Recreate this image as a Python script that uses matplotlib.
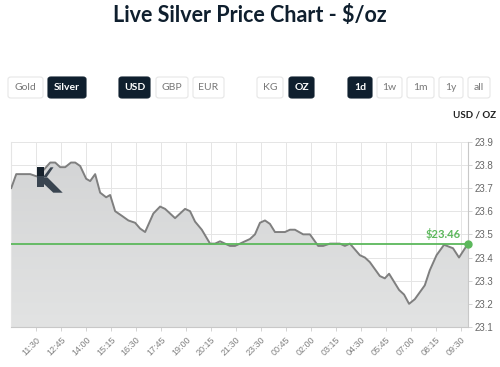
import matplotlib
matplotlib.use("Agg")
import matplotlib.pyplot as plt
import numpy as np
from matplotlib.patches import FancyBboxPatch, Polygon

# Price samples (x in tick-spacing units, 11:30 = 1)
pos = [0.01, 0.21, 0.77, 1.04, 1.24, 1.57, 1.77, 1.97, 2.17, 2.40, 2.57, 2.77,
       3.01, 3.17, 3.37, 3.57, 3.81, 3.97, 4.17, 4.44, 4.70, 4.97, 5.17, 5.37,
       5.70, 5.97, 6.17, 6.57, 6.97, 7.17, 7.37, 7.64, 7.97, 8.17, 8.37, 8.77,
       8.97, 9.57, 9.77, 9.97, 10.17, 10.37, 10.57, 10.97, 11.17, 11.37, 11.70,
       11.97, 12.30, 12.50, 12.77, 13.17, 13.37, 13.57, 13.97, 14.17, 14.37,
       14.77, 14.97, 15.14, 15.54, 15.74, 15.94, 16.17, 16.57, 16.77, 17.04,
       17.34, 17.70, 17.94, 18.30]
price = [23.70, 23.76, 23.76, 23.75, 23.77, 23.81, 23.81, 23.79, 23.79, 23.81,
         23.81, 23.795, 23.74, 23.73, 23.76, 23.68, 23.66, 23.67, 23.60, 23.58,
         23.56, 23.55, 23.525, 23.51, 23.59, 23.62, 23.61, 23.57, 23.61, 23.60,
         23.555, 23.52, 23.46, 23.46, 23.47, 23.45, 23.45, 23.48, 23.50, 23.55,
         23.56, 23.545, 23.51, 23.51, 23.52, 23.52, 23.50, 23.50, 23.45, 23.45,
         23.46, 23.46, 23.45, 23.46, 23.41, 23.40, 23.38, 23.32, 23.31, 23.33,
         23.26, 23.24, 23.20, 23.22, 23.28, 23.345, 23.41, 23.455, 23.44, 23.40,
         23.46]
current_price = 23.46

time_labels = ["11:30", "12:45", "14:00", "15:15", "16:30", "17:45", "19:00",
               "20:15", "21:30", "23:30", "00:45", "02:00", "03:15", "04:30",
               "05:45", "07:00", "08:15", "09:30"]
y_ticks = [23.1, 23.2, 23.3, 23.4, 23.5, 23.6, 23.7, 23.8, 23.9]

title = "Live Silver Price Chart - $/oz"
button_groups = [
    [("Gold", 8, 43, False), ("Silver", 48, 86, True)],
    [("USD", 119, 150, True), ("GBP", 156, 188, False), ("EUR", 193, 224, False)],
    [("KG", 257, 283, False), ("OZ", 289, 314, True)],
    [("1d", 348, 372, True), ("1w", 377, 402, False), ("1m", 407, 434, False),
     ("1y", 439, 463, False), ("all", 468, 490, False)],
]

W, H = 500, 367
DARK = "#0f1f2e"
GREEN = "#5cb85c"

fig = plt.figure(figsize=(W / 100, H / 100), dpi=100)
fig.patch.set_facecolor("white")


def fx(px):
    return px / W


def fy(py):
    return 1 - py / H


fig.text(0.5, fy(15), title, ha="center", va="center", fontsize=15.5,
         fontweight="bold", family="Lato", color=DARK)

for group in button_groups:
    for label, x0, x1, active in group:
        box = FancyBboxPatch((fx(x0), fy(98)), fx(x1 - x0), 21 / H,
                             boxstyle="round,pad=0,rounding_size=0.006",
                             transform=fig.transFigure,
                             facecolor=DARK if active else "white",
                             edgecolor=DARK if active else "#e6e6e6",
                             linewidth=0.8)
        fig.add_artist(box)
        fig.text(fx((x0 + x1) / 2), fy(87.5), label, ha="center", va="center",
                 fontsize=7.5, family="Lato",
                 fontweight="bold" if active else "normal",
                 color="white" if active else "#777777")

fig.text(fx(496), fy(115.5), "USD / OZ", ha="right", va="center", fontsize=7,
         fontweight="bold", family="Lato", color="#222222")

ax = fig.add_axes([fx(11), fy(327), fx(468 - 11), (327 - 141.7) / H])
ax.set_xlim(0, pos[-1])
ax.set_ylim(23.1, 23.9)

# gradient fill under the line
grad = np.linspace(0, 1, 256).reshape(-1, 1)
cmap = matplotlib.colors.LinearSegmentedColormap.from_list(
    "fill", ["#e2e3e3", "#d2d3d4"])
im = ax.imshow(grad, extent=[0, pos[-1], 23.1, 23.9], origin="lower",
               aspect="auto", cmap=cmap, zorder=1)
verts = [(pos[0], 23.1)] + list(zip(pos, price)) + [(pos[-1], 23.1)]
clip = Polygon(verts, closed=True, facecolor="none", edgecolor="none",
               transform=ax.transData)
ax.add_patch(clip)
im.set_clip_path(clip)

ax.plot(pos, price, color="#7f7f7f", linewidth=1.4, zorder=3)

ax.set_xticks(range(1, len(time_labels) + 1))
ax.set_xticklabels(time_labels, rotation=45, ha="right", rotation_mode="anchor",
                   fontsize=6.5, family="Liberation Sans", color="#808080")
ax.set_yticks(y_ticks)
ax.set_yticklabels([f"{v:.1f}" for v in y_ticks], fontsize=7,
                   family="Liberation Sans", color="#666666")
ax.yaxis.tick_right()
ax.tick_params(axis="both", length=3, color="#cccccc", width=0.6, pad=2)
ax.tick_params(axis="x", pad=3)

ax.grid(True, color="#e5e5e5", linewidth=0.7, zorder=0)
ax.set_axisbelow(True)
ax.spines["top"].set_visible(False)
ax.spines["left"].set_color("#e5e5e5")
ax.spines["right"].set_color("#c8c8c8")
ax.spines["bottom"].set_color("#c8c8c8")

ax.axhline(current_price, color=GREEN, linewidth=1.3, zorder=4)
ax.plot([pos[-1]], [current_price], "o", color=GREEN, markersize=5,
        zorder=5, clip_on=False)
ax.annotate(f"${current_price:.2f}", (pos[-1], current_price),
            xytext=(-5.5, 2.5), textcoords="offset points", ha="right",
            va="bottom", fontsize=8, fontweight="bold", family="Lato",
            color=GREEN)

# watermark logo (figure pixel shapes)
logo = [
    ([(37.3, 167.3), (44, 167.3), (44, 176), (37.3, 176)], "#16212c"),
    ([(37.3, 176), (44, 176), (44, 187.3), (37.3, 187.3)], "#3a4551"),
    ([(50.5, 167.3), (53.5, 167.3), (46.5, 177.5), (44, 177.5), (44, 176)], "#3a4551"),
    ([(44, 177.5), (47.5, 177.5), (62.7, 192.7), (53.3, 192.7), (44, 184)], "#3a4551"),
]
for pts, col in logo:
    fig.add_artist(Polygon([(fx(px), fy(py)) for px, py in pts], closed=True,
                           transform=fig.transFigure, facecolor=col,
                           edgecolor="none", zorder=3))

fig.savefig("out.png", dpi=100)
